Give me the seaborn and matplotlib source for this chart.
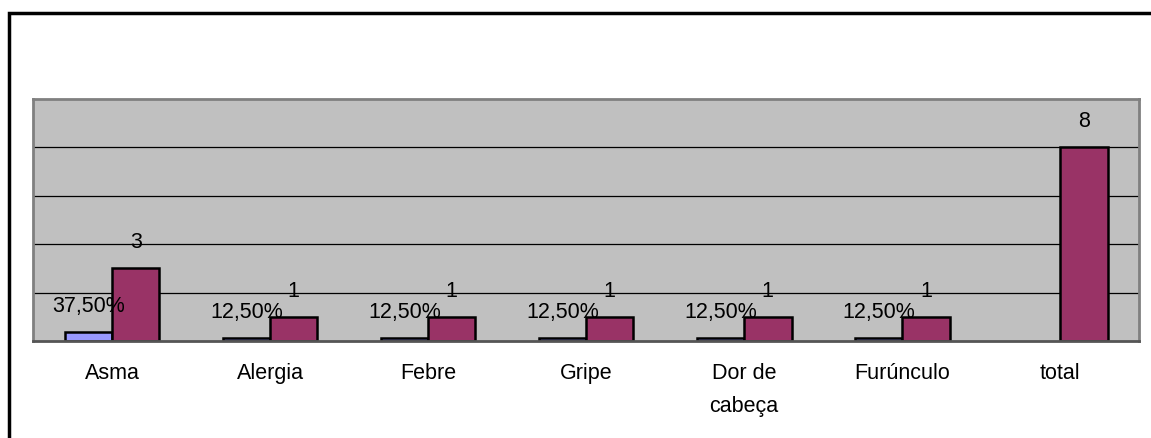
import matplotlib
matplotlib.use("Agg")
import pandas as pd
import seaborn as sns
import matplotlib.pyplot as plt
from matplotlib.patches import Rectangle

# dados
doencas = ["Asma", "Alergia", "Febre", "Gripe", "Dor de\ncabeça", "Furúnculo", "total"]
casos = [3, 1, 1, 1, 1, 1, 8]
percent = [0.375, 0.125, 0.125, 0.125, 0.125, 0.125, None]

df = pd.DataFrame({
    "doenca": doencas * 2,
    "serie": ["perc"] * 7 + ["casos"] * 7,
    "valor": percent + casos,
})

sns.set_style("white")
plt.rcParams["font.family"] = ["Liberation Sans", "DejaVu Sans"]
plt.rcParams["text.color"] = "black"
plt.rcParams["xtick.color"] = "black"

fig = plt.figure(figsize=(11.51, 4.38), dpi=100)
ax = fig.add_axes([0.0287, 0.2215, 0.961, 0.5525])
ax.set_facecolor("#C0C0C0")

sns.barplot(data=df, x="doenca", y="valor", hue="serie", order=doencas,
            hue_order=["perc", "casos"], palette=["#9999FF", "#993366"],
            width=0.6, edgecolor="black", linewidth=1.8, saturation=1,
            errorbar=None, legend=False, ax=ax)

perc_lbl = [f"{p * 100:.2f}%".replace(".", ",") for p in percent if p is not None]
ax.bar_label(ax.containers[0], labels=perc_lbl, padding=11, fontsize=15.5, color="black")
ax.bar_label(ax.containers[1], labels=[str(c) for c in casos], padding=11, fontsize=15.5, color="black")

ax.set_ylim(0, 10)
ax.set_yticks([2, 4, 6, 8])
ax.set_yticklabels([])
ax.yaxis.grid(True, color="black", linewidth=0.9)
ax.set_axisbelow(True)
ax.tick_params(axis="y", length=0)

ax.set_xlim(-0.5, 6.5)
ax.set_xticks([i - 0.5 for i in range(8)], minor=True)
ax.tick_params(axis="x", which="minor", length=5, width=1, color="#333333", direction="out")
ax.tick_params(axis="x", which="major", length=0, pad=16, labelsize=15.5, labelcolor="black")
plt.setp(ax.get_xticklabels(), linespacing=1.75)
ax.set_xlabel("")
ax.set_ylabel("")

for s in ax.spines.values():
    s.set_color("#808080")
    s.set_linewidth(2)
ax.spines["bottom"].set_color("#555555")

# moldura externa
fig.add_artist(Rectangle((9 / 1151, -0.2), 1.2, 1 - 13 / 438 + 0.2,
                         transform=fig.transFigure, fill=False,
                         edgecolor="black", linewidth=2.5, clip_on=False))

fig.savefig("out.png", dpi=100)
